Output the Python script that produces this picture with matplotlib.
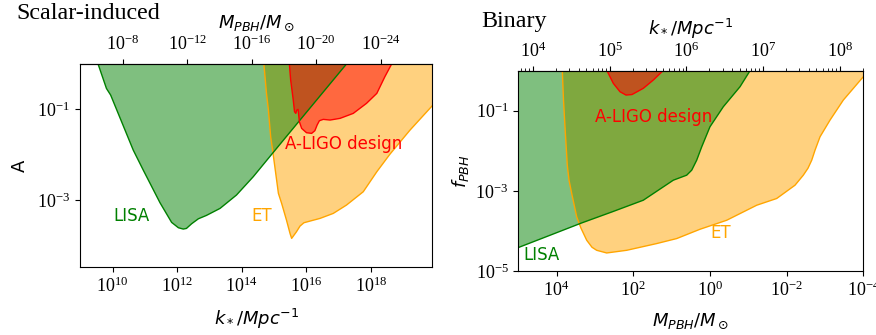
import numpy as np
import matplotlib
matplotlib.use("Agg")
import matplotlib.pyplot as plt
from matplotlib.ticker import FixedLocator, NullLocator, LogLocator, NullFormatter

plt.rcParams['mathtext.fontset'] = 'stix'
plt.rcParams['font.family'] = ['Liberation Serif', 'DejaVu Serif']

# conversion M_PBH/M_sun = 10**LOG_C * k**-2
LOG_C = 12.62

# ---------------- Scalar-induced panel (log10 k, log10 A) ----------------
lisa_si_logk = [9.55, 9.81, 9.94, 10.64, 10.95, 11.47, 11.83, 12.04, 12.19, 12.29,
                12.45, 12.66, 12.91, 13.33, 13.84, 14.36, 14.93, 15.81, 17.25]
lisa_si_logA = [0.0, -0.54, -0.685, -1.898, -2.339, -3.060, -3.493, -3.611, -3.640, -3.626,
                -3.523, -3.413, -3.339, -3.185, -2.890, -2.486, -1.993, -1.236, 0.0]

et_si_logk = [14.69, 14.77, 14.83, 14.90, 14.96, 15.14, 15.24, 15.39, 15.50, 15.55,
              15.70, 15.81, 15.93, 16.12, 16.43, 16.84, 17.25, 17.77, 18.19, 18.60,
              19.22, 19.91, 20.25]
et_si_logA = [0.0, -0.648, -1.015, -1.604, -1.898, -2.854, -3.074, -3.442, -3.736, -3.846,
              -3.699, -3.574, -3.501, -3.464, -3.405, -3.295, -3.111, -2.817, -2.376, -1.986,
              -1.457, -0.920, -0.648]

ligo_si_logk = [15.48, 15.52, 15.60, 15.64, 15.68, 15.71, 15.75, 15.79, 15.86, 16.01,
                16.17, 16.27, 16.34, 16.41, 16.53, 16.74, 17.05, 17.46, 17.87, 18.19,
                18.44, 18.65]
ligo_si_logA = [0.0, -0.354, -0.795, -1.052, -1.089, -1.016, -1.001, -1.273, -1.420, -1.515,
                -1.530, -1.471, -1.346, -1.251, -1.221, -1.236, -1.199, -1.089, -0.868, -0.648,
                -0.280, 0.0]

# ---------------- Binary panel (log10 M, log10 f_PBH) ----------------
lisa_b_logM = [5.2, 5.0, 4.173, 3.346, 2.542, 1.739, 0.956, 0.607, 0.476, 0.346,
               0.215, 0.0, -0.348, -0.784, -1.045]
lisa_b_logf = [-4.49, -4.415, -4.108, -3.80, -3.52, -3.233, -2.733, -2.608, -2.483, -2.233,
               -1.90, -1.40, -0.90, -0.40, 0.0]

et_b_logM = [3.852, 3.821, 3.782, 3.722, 3.677, 3.607, 3.476, 3.364, 3.215, 3.077,
             2.955, 2.694, 2.172, 1.389, 0.867, 0.260, -0.437, -1.220, -1.741, -2.219,
             -2.435, -2.558, -2.655, -2.741, -2.871, -3.132, -3.479, -4.001, -4.2]
et_b_logf = [0.0, -0.733, -1.40, -2.358, -2.733, -3.065, -3.65, -3.933, -4.233, -4.408,
             -4.483, -4.55, -4.483, -4.315, -4.19, -3.958, -3.733, -3.358, -3.19, -2.858,
             -2.608, -2.433, -2.233, -1.983, -1.65, -1.233, -0.733, -0.15, 0.05]

ligo_b_logM = [2.686, 2.522, 2.347, 2.190, 2.034, 1.739, 1.478, 1.225]
ligo_b_logf = [0.0, -0.315, -0.525, -0.608, -0.595, -0.44, -0.233, 0.0]

# tick values
si_xticks = [1e10, 1e12, 1e14, 1e16, 1e18]
si_yticks = [1e-1, 1e-3]
si_topticks = [1e-8, 1e-12, 1e-16, 1e-20, 1e-24]
b_xticks = [1e4, 1e2, 1e0, 1e-2, 1e-4]
b_yticks = [1e-1, 1e-3, 1e-5]
b_topticks = [1e4, 1e5, 1e6, 1e7, 1e8]


def k2M(k):
    k = np.clip(np.asarray(k, dtype=float), 1e-300, None)
    return 10 ** LOG_C / k ** 2


def M2k(M):
    M = np.clip(np.asarray(M, dtype=float), 1e-300, None)
    return np.sqrt(10 ** LOG_C / M)


C_LISA = 'green'
C_ET = 'orange'
C_LIGO = 'red'
TXT = ['DejaVu Sans']
LBL = dict(fontfamily='DejaVu Sans', math_fontfamily='dejavusans', fontsize=13)

fig = plt.figure(figsize=(8.76, 3.35), dpi=100)
ax1 = fig.add_axes([80 / 876, 1 - 266.7 / 335, 352.3 / 876, 202.7 / 335])
ax2 = fig.add_axes([518.3 / 876, 1 - 271 / 335, 345 / 876, 200.3 / 335])

# ---- left panel ----
ax1.set_xscale('log')
ax1.set_yscale('log')
TOP = 10.0
series_si = [(et_si_logk, et_si_logA, C_ET), (lisa_si_logk, lisa_si_logA, C_LISA),
             (ligo_si_logk, ligo_si_logA, C_LIGO)]
for lx, ly, c in series_si:
    ax1.fill_between(10 ** np.array(lx), 10 ** np.array(ly), TOP, facecolor=c, alpha=0.5, lw=0)
for lx, ly, c in series_si:
    ax1.plot(10 ** np.array(lx), 10 ** np.array(ly), color=c, lw=1.0)
ax1.set_xlim(10 ** 8.99, 10 ** 19.91)
ax1.set_ylim(10 ** -4.47, 1.0)
ax1.xaxis.set_major_locator(FixedLocator(si_xticks))
ax1.xaxis.set_minor_locator(NullLocator())
ax1.yaxis.set_major_locator(FixedLocator(si_yticks))
ax1.yaxis.set_minor_locator(NullLocator())
ax1.tick_params(labelsize=13)
ax1.set_xlabel(r'$k_*/Mpc^{-1}$', labelpad=8, **LBL)
ax1.set_ylabel('A', labelpad=6, **LBL)
ax1.text(10 ** 10.60, 10 ** -3.354, 'LISA', color=C_LISA, fontfamily=TXT, fontsize=12,
         ha='center', va='center')
ax1.text(10 ** 14.62, 10 ** -3.35, 'ET', color=C_ET, fontfamily=TXT, fontsize=12,
         ha='center', va='center')
ax1.text(10 ** 17.17, 10 ** -1.772, 'A-LIGO design', color=C_LIGO, fontfamily=TXT,
         fontsize=12, ha='center', va='center')
sec1 = ax1.secondary_xaxis('top', functions=(k2M, M2k))
sec1.xaxis.set_major_locator(FixedLocator(si_topticks))
sec1.xaxis.set_minor_locator(NullLocator())
sec1.tick_params(labelsize=13)
sec1.set_xlabel(r'$M_{PBH}/M_\odot$', labelpad=5, **LBL)

# ---- right panel ----
ax2.set_xscale('log')
ax2.set_yscale('log')
series_b = [(et_b_logM, et_b_logf, C_ET), (lisa_b_logM, lisa_b_logf, C_LISA),
            (ligo_b_logM, ligo_b_logf, C_LIGO)]
for lx, ly, c in series_b:
    ax2.fill_between(10 ** np.array(lx), 10 ** np.array(ly), TOP, facecolor=c, alpha=0.5, lw=0)
for lx, ly, c in series_b:
    ax2.plot(10 ** np.array(lx), 10 ** np.array(ly), color=c, lw=1.0)
ax2.set_xlim(1e5, 1e-4)
ax2.set_ylim(1e-5, 1.0)
ax2.xaxis.set_major_locator(FixedLocator(b_xticks))
ax2.xaxis.set_minor_locator(NullLocator())
ax2.yaxis.set_major_locator(FixedLocator(b_yticks))
ax2.yaxis.set_minor_locator(NullLocator())
ax2.tick_params(labelsize=13)
ax2.set_xlabel(r'$M_{PBH}/M_\odot$', labelpad=8, **LBL)
ax2.set_ylabel(r'$f_{PBH}$', labelpad=3, **LBL)
ax2.text(10 ** 4.39, 10 ** -4.59, 'LISA', color=C_LISA, fontfamily=TXT, fontsize=12,
         ha='center', va='center')
ax2.text(10 ** -0.283, 10 ** -4.045, 'ET', color=C_ET, fontfamily=TXT, fontsize=12,
         ha='center', va='center')
ax2.text(10 ** 1.478, 10 ** -1.15, 'A-LIGO design', color=C_LIGO, fontfamily=TXT,
         fontsize=12, ha='center', va='center')
sec2 = ax2.secondary_xaxis('top', functions=(M2k, k2M))
sec2.xaxis.set_major_locator(FixedLocator(b_topticks))
sec2.xaxis.set_minor_locator(LogLocator(base=10, subs=np.arange(2, 10)))
sec2.xaxis.set_minor_formatter(NullFormatter())
sec2.tick_params(labelsize=13)
sec2.set_xlabel(r'$k_*/Mpc^{-1}$', labelpad=5, **LBL)

fig.text(16.7 / 876, 1 - 19.0 / 335, 'Scalar-induced', fontsize=17.3, va='baseline')
fig.text(481.7 / 876, 1 - 26.7 / 335, 'Binary', fontsize=17.3, va='baseline')

fig.savefig('out.png', dpi=100)
